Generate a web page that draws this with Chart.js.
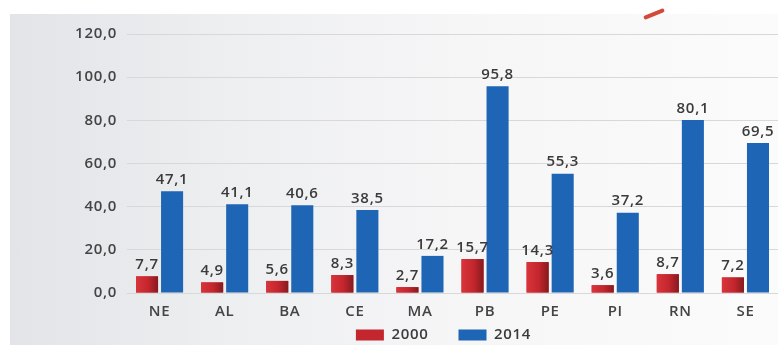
<!DOCTYPE html>
<html>
<head>
<meta charset="utf-8">
<script src="https://cdn.jsdelivr.net/npm/chart.js@4.4.1/dist/chart.umd.min.js"></script>
<style>
  html, body { margin: 0; padding: 0; background: #ffffff; }
  #wrap { position: relative; width: 778px; height: 345px; overflow: hidden; background: #ffffff; }
  #panel { position: absolute; left: 10px; top: 14px; right: 0; bottom: 0;
    background: linear-gradient(90deg, #e2e4e7 0%, #eeeff1 30%, #f6f6f7 60%, #fbfbfb 100%); }
  #streak { position: absolute; left: 643px; top: 12px; width: 22px; height: 4px; background: #d24a3a;
    transform: rotate(-22deg); border-radius: 2px; }
  canvas { position: absolute; left: 0; top: 0; }
</style>
</head>
<body>
<div id="wrap">
  <div id="panel"></div>
  <div id="streak"></div>
  <canvas id="c" width="778" height="345"></canvas>
</div>
<script>
const categories = ['NE', 'AL', 'BA', 'CE', 'MA', 'PB', 'PE', 'PI', 'RN', 'SE'];
const seriesNames = ['2000', '2014'];
const values2000 = [7.7, 4.9, 5.6, 8.3, 2.7, 15.7, 14.3, 3.6, 8.7, 7.2];
const values2014 = [47.1, 41.1, 40.6, 38.5, 17.2, 95.8, 55.3, 37.2, 80.1, 69.5];
const yTicks = [0, 20, 40, 60, 80, 100, 120];

const FONT = '"Open Sans", "DejaVu Sans", sans-serif';
const TEXT = '#3b3b3b';
const fmt = v => v.toFixed(1).replace('.', ',');

const spacingPlugin = {
  id: 'spacing',
  beforeLayout(chart) { chart.ctx.letterSpacing = '0.7px'; },
  beforeDraw(chart) { chart.ctx.letterSpacing = '0.7px'; }
};

const legendFitPlugin = {
  id: 'legendFit',
  beforeLayout(chart) {
    const lg = chart.legend;
    if (lg && !lg._patched) {
      const orig = lg.fit.bind(lg);
      lg.fit = function () { orig(); this.height = 14; };
      lg._patched = true;
    }
  },
  afterLayout(chart) {
    const lg = chart.legend;
    if (!lg) return;
    const p = lg.options.labels.padding;
    lg.top = 335 - 7.5 - p;
    lg.bottom = chart.height;
    lg.height = lg.bottom - lg.top;
    lg.left -= 9; lg.right -= 9;
  }
};

const redGradientPlugin = {
  id: 'redGradient',
  afterDatasetDraw(chart, args) {
    if (args.index !== 0) return;
    const ctx = chart.ctx;
    const meta = chart.getDatasetMeta(0);
    ctx.save();
    meta.data.forEach(el => {
      const left = el.x - el.width / 2;
      const g = ctx.createLinearGradient(left, 0, left + el.width, 0);
      g.addColorStop(0, '#d8343b');
      g.addColorStop(0.55, '#c4262d');
      g.addColorStop(1, '#861a1f');
      ctx.fillStyle = g;
      ctx.fillRect(left, el.y, el.width, el.base - el.y);
    });
    ctx.restore();
  }
};

const valueLabelPlugin = {
  id: 'valueLabels',
  afterDatasetsDraw(chart) {
    const ctx = chart.ctx;
    ctx.save();
    ctx.font = '600 15px ' + FONT;
    ctx.fillStyle = TEXT;
    ctx.textAlign = 'center';
    ctx.textBaseline = 'bottom';
    chart.data.datasets.forEach((ds, di) => {
      chart.getDatasetMeta(di).data.forEach((el, i) => {
        ctx.fillText(fmt(ds.data[i]), el.x, el.y - 4);
      });
    });
    ctx.restore();
  }
};

new Chart(document.getElementById('c'), {
  type: 'bar',
  data: {
    labels: categories,
    datasets: [
      { label: seriesNames[0], data: values2000, backgroundColor: '#c4262d',
        categoryPercentage: 0.77, barPercentage: 0.88 },
      { label: seriesNames[1], data: values2014, backgroundColor: '#1f65b5',
        categoryPercentage: 0.77, barPercentage: 0.88 }
    ]
  },
  options: {
    responsive: false,
    animation: false,
    layout: { padding: { top: 34, right: 0, left: 0, bottom: 0 } },
    plugins: {
      legend: {
        position: 'bottom',
        fullSize: false,
        labels: {
          boxWidth: 28, boxHeight: 11, padding: 30,
          color: TEXT,
          font: { family: FONT, size: 15, weight: '600' },
          generateLabels(chart) {
            const base = Chart.defaults.plugins.legend.labels.generateLabels(chart);
            base.forEach(l => { l.lineWidth = 0; l.strokeStyle = 'rgba(0,0,0,0)'; });
            return base;
          }
        }
      },
      tooltip: { enabled: false }
    },
    scales: {
      x: {
        grid: { display: false, drawTicks: false },
        border: { display: false },
        ticks: { color: '#444', font: { family: FONT, size: 15, weight: '600' }, padding: 10 }
      },
      y: {
        min: 0, max: 120,
        afterBuildTicks(scale) { scale.ticks = yTicks.map(v => ({ value: v })); },
        afterFit(scale) { scale.width = 127; },
        grid: { color: '#d8d8d8', lineWidth: 1, drawTicks: false },
        border: { display: false },
        ticks: { color: '#444', font: { family: FONT, size: 15, weight: '600' }, padding: 10,
          callback: v => fmt(v) }
      }
    }
  },
  plugins: [spacingPlugin, legendFitPlugin, redGradientPlugin, valueLabelPlugin]
});
</script>
</body>
</html>
